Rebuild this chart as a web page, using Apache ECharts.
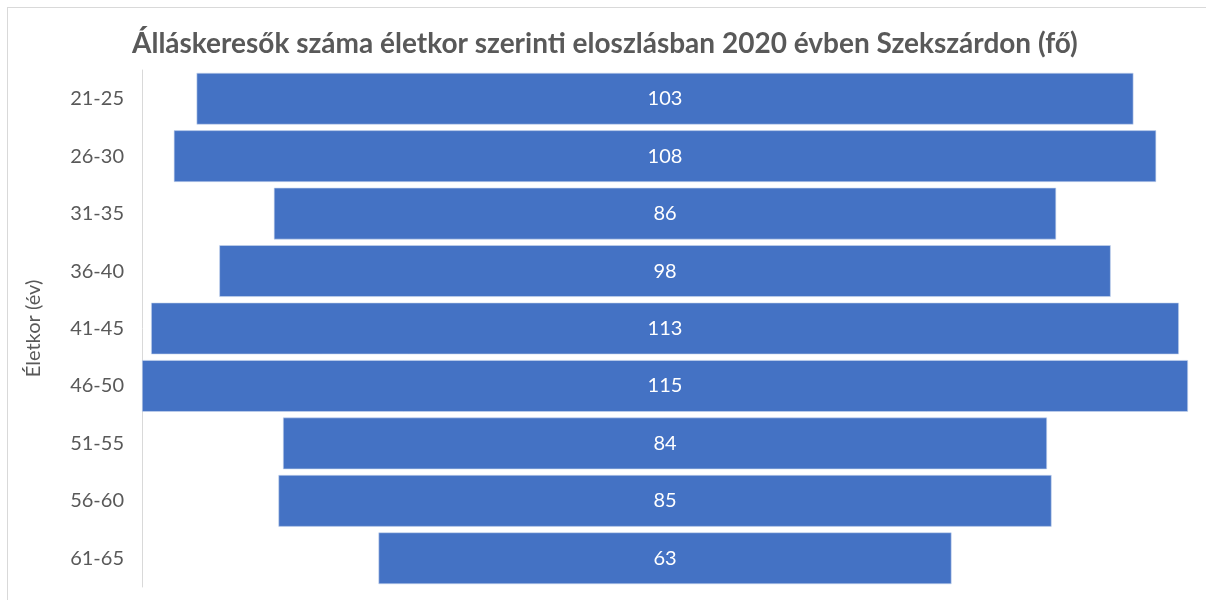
<!DOCTYPE html>
<html>
<head>
<meta charset="utf-8">
<script src="https://cdn.jsdelivr.net/npm/echarts@6/dist/echarts.min.js"></script>
<style>
  html, body { margin: 0; padding: 0; background: #fff; }
  #chart { position: absolute; left: 7px; top: 7px; width: 1199px; height: 593px; border-left: 1px solid #d9d9d9; border-top: 1px solid #d9d9d9; box-sizing: border-box; }
</style>
</head>
<body>
<div id="chart"></div>
<script>
var ageGroups = ['21-25', '26-30', '31-35', '36-40', '41-45', '46-50', '51-55', '56-60', '61-65'];
var jobSeekers = [103, 108, 86, 98, 113, 115, 84, 85, 63];
var maxValue = 115;

var offsets = jobSeekers.map(function (v) { return (maxValue - v) / 2; });

var chart = echarts.init(document.getElementById('chart'));
chart.setOption({
  animation: false,
  title: {
    text: 'Álláskeresők száma életkor szerinti eloszlásban 2020 évben Szekszárdon (fő)',
    left: 119,
    top: 17,
    textStyle: { fontFamily: 'Lato', fontWeight: 'bold', fontSize: 28, color: '#595959' }
  },
  grid: { left: 134, right: 18, top: 62, height: 517 },
  xAxis: {
    type: 'value', min: 0, max: maxValue, show: false
  },
  yAxis: {
    type: 'category',
    data: ageGroups,
    inverse: true,
    name: 'Életkor (év)',
    nameLocation: 'middle',
    nameGap: 98,
    nameTextStyle: { fontFamily: 'Lato', fontSize: 20, color: '#595959' },
    axisLine: { lineStyle: { color: '#d9d9d9', width: 1 } },
    axisTick: { show: false },
    axisLabel: { fontFamily: 'Lato', fontSize: 20, color: '#595959', margin: 18 }
  },
  series: [
    {
      type: 'bar', stack: 'pyr', data: offsets,
      itemStyle: { color: 'transparent' },
      barCategoryGap: '10%',
      silent: true
    },
    {
      type: 'bar', stack: 'pyr', data: jobSeekers,
      itemStyle: { color: '#4472C4', borderColor: '#c9d6ee', borderWidth: 0.6 },
      barCategoryGap: '10%',
      label: { show: true, position: 'inside', color: '#ffffff', fontFamily: 'Lato', fontSize: 20 }
    }
  ]
});
</script>
</body>
</html>
